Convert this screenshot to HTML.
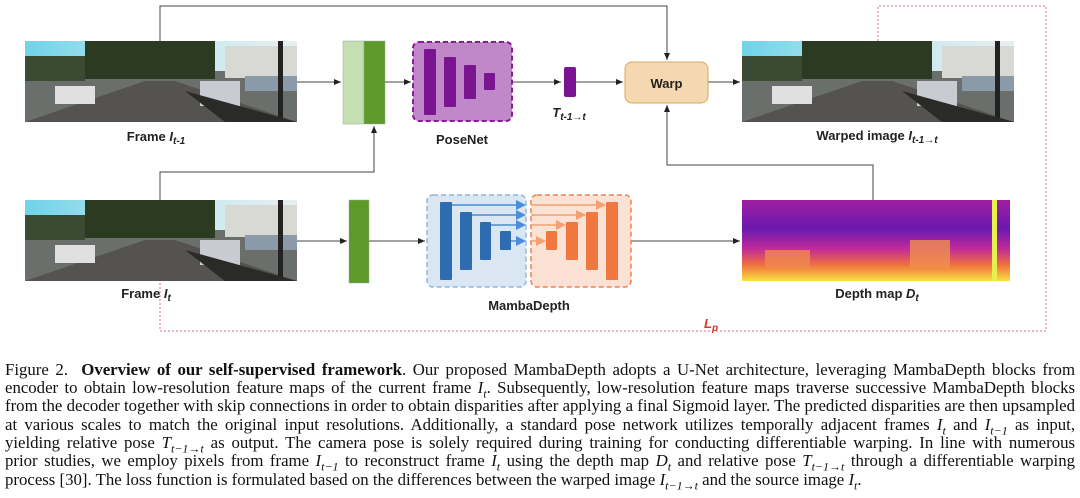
<!DOCTYPE html>
<html><head><meta charset="utf-8"><style>
body{margin:0;width:1080px;height:498px;background:#fff;position:relative;overflow:hidden}
svg{position:absolute;left:0;top:0}
.lb{font-family:"Liberation Sans",sans-serif;font-weight:bold;font-size:13px;fill:#222}
.cap{position:absolute;left:5px;width:1070px;font-family:"Liberation Serif",serif;font-size:16.8px;line-height:18px;color:#111;text-align:justify;text-align-last:justify;white-space:nowrap}
.cap.last{text-align-last:left}
i{font-style:italic}
sub{font-size:12px;line-height:0}
</style></head><body>
<svg width="1080" height="350" viewBox="0 0 1080 350">
<defs>
<linearGradient id="sky" x1="0" y1="0" x2="1" y2="0"><stop offset="0" stop-color="#6fd3e8"/><stop offset="0.5" stop-color="#bfe9f0"/><stop offset="1" stop-color="#e8eef0"/></linearGradient>
<linearGradient id="dep" x1="0" y1="0" x2="0" y2="1"><stop offset="0" stop-color="#a01fa0"/><stop offset="0.35" stop-color="#6a18b0"/><stop offset="0.6" stop-color="#c02a9a"/><stop offset="0.8" stop-color="#f07040"/><stop offset="1" stop-color="#f8e040"/></linearGradient>
<marker id="ar" markerWidth="8" markerHeight="8" refX="7" refY="4" orient="auto" markerUnits="userSpaceOnUse"><path d="M0,1 L7,4 L0,7z" fill="#222"/></marker>
<g id="photo">
<rect width="272" height="81" fill="#6b6f6c"/>
<rect width="272" height="30" fill="url(#sky)"/>
<rect x="60" y="0" width="130" height="38" fill="#2d3a22"/>
<rect x="0" y="15" width="60" height="25" fill="#3a4a33"/>
<rect x="200" y="5" width="72" height="32" fill="#d8d8d4"/>
<polygon points="0,81 120,40 150,40 272,81" fill="#55534f"/>
<rect x="30" y="45" width="40" height="18" fill="#e0e0e0"/>
<rect x="175" y="40" width="40" height="25" fill="#c8ccd2"/>
<rect x="220" y="35" width="52" height="15" fill="#8a9aa8"/>
<rect x="253" y="0" width="5" height="81" fill="#222"/>
<polygon points="160,50 272,81 200,81" fill="#2a2a28"/>
</g>
</defs>
<g stroke="#444" stroke-width="1" fill="none">
<polyline points="160,41 160,6 667,6 667,60" marker-end="url(#ar)"/>
<polyline points="160,200 160,172 374,172 374,126" marker-end="url(#ar)"/>
<polyline points="873,200 873,165 667,165 667,105" marker-end="url(#ar)"/>
<line x1="297" y1="82" x2="341" y2="82" marker-end="url(#ar)"/>
<line x1="385" y1="82" x2="411" y2="82" marker-end="url(#ar)"/>
<line x1="512" y1="82" x2="561" y2="82" marker-end="url(#ar)"/>
<line x1="576" y1="82" x2="623" y2="82" marker-end="url(#ar)"/>
<line x1="708" y1="82" x2="740" y2="82" marker-end="url(#ar)"/>
<line x1="297" y1="241" x2="347" y2="241" marker-end="url(#ar)"/>
<line x1="369" y1="241" x2="425" y2="241" marker-end="url(#ar)"/>
<line x1="631" y1="241" x2="740" y2="241" marker-end="url(#ar)"/>
</g>
<polyline points="160,283 160,331 1046,331 1046,6 878,6 878,41" fill="none" stroke="#d87090" stroke-width="1" stroke-dasharray="2,2"/>
<use href="#photo" x="25" y="41"/>
<use href="#photo" x="25" y="200"/>
<use href="#photo" x="742" y="41"/>
<rect x="742" y="200" width="268" height="81" fill="url(#dep)"/>
<rect x="765" y="250" width="45" height="18" fill="#f08850" opacity="0.8"/>
<rect x="910" y="240" width="40" height="28" fill="#f09050" opacity="0.8"/>
<rect x="992" y="200" width="5" height="81" fill="#e8f050"/>
<rect x="343" y="41" width="21" height="83" fill="#c4dfb2" stroke="#9a9" stroke-width="0.5"/>
<rect x="364" y="41" width="21" height="83" fill="#5e9a2a" stroke="#9a9" stroke-width="0.5"/>
<rect x="349" y="200" width="20" height="83" fill="#5e9a2a" stroke="#9a9" stroke-width="0.5"/>
<rect x="413" y="42" width="99" height="79" rx="6" fill="#c088c8" stroke="#8a1c9a" stroke-width="2" stroke-dasharray="5,3"/>
<g fill="#7a1490"><rect x="424" y="49" width="12" height="66" rx="1"/><rect x="444" y="57" width="12" height="50" rx="1"/><rect x="464" y="65" width="12" height="34" rx="1"/><rect x="484" y="73" width="11" height="17" rx="1"/></g>
<rect x="564" y="67" width="12" height="30" rx="2" fill="#7a1490"/>
<rect x="625" y="62" width="83" height="41" rx="7" fill="#f6d8b0" stroke="#d8a860" stroke-width="1"/>
<text x="666.5" y="88" text-anchor="middle" class="lb" font-size="13">Warp</text>
<rect x="427" y="195" width="99" height="92" rx="6" fill="#dae7f3" stroke="#8fb8e0" stroke-width="1.5" stroke-dasharray="5,3"/>
<rect x="531" y="195" width="100" height="92" rx="6" fill="#fbe2d4" stroke="#f08050" stroke-width="1.5" stroke-dasharray="5,3"/>
<g fill="#2d6cb0"><rect x="440" y="202" width="12" height="78" rx="1"/><rect x="460" y="212" width="12" height="58" rx="1"/><rect x="480" y="222" width="11" height="38" rx="1"/><rect x="500" y="231" width="11" height="19" rx="1"/></g>
<g fill="#f07840"><rect x="546" y="231" width="11" height="19" rx="1"/><rect x="566" y="222" width="12" height="38" rx="1"/><rect x="586" y="212" width="12" height="58" rx="1"/><rect x="606" y="202" width="12" height="78" rx="1"/></g>
<g stroke="#4a8ed8" stroke-width="1.5" fill="#4a8ed8">
<line x1="452" y1="205" x2="518" y2="205"/><polygon points="516,200 526,205 516,210" stroke="none"/>
<line x1="472" y1="215" x2="518" y2="215"/><polygon points="516,210 526,215 516,220" stroke="none"/>
<line x1="491" y1="225" x2="518" y2="225"/><polygon points="516,220 526,225 516,230" stroke="none"/>
<line x1="511" y1="241" x2="518" y2="241"/><polygon points="516,236 526,241 516,246" stroke="none"/>
</g>
<g stroke="#f4a070" stroke-width="1.5" fill="#f4a070">
<line x1="531" y1="205" x2="598" y2="205"/><polygon points="596,200 606,205 596,210" stroke="none"/>
<line x1="531" y1="215" x2="578" y2="215"/><polygon points="576,210 586,215 576,220" stroke="none"/>
<line x1="531" y1="225" x2="558" y2="225"/><polygon points="556,220 566,225 556,230" stroke="none"/>
<line x1="531" y1="241" x2="538" y2="241"/><polygon points="536,236 546,241 536,246" stroke="none"/>
</g>
<text x="156" y="141" text-anchor="middle" class="lb">Frame <tspan font-style="italic">I</tspan><tspan font-style="italic" font-size="10" dy="3">t-1</tspan></text>
<text x="462" y="144" text-anchor="middle" class="lb">PoseNet</text>
<text x="569" y="117" text-anchor="middle" class="lb" font-style="italic">T<tspan font-size="10" dy="3">t-1→t</tspan></text>
<text x="877" y="140" text-anchor="middle" class="lb">Warped image <tspan font-style="italic">I</tspan><tspan font-style="italic" font-size="10" dy="3">t-1→t</tspan></text>
<text x="146" y="298" text-anchor="middle" class="lb">Frame <tspan font-style="italic">I</tspan><tspan font-style="italic" font-size="10" dy="3">t</tspan></text>
<text x="529" y="310" text-anchor="middle" class="lb">MambaDepth</text>
<text x="877" y="298" text-anchor="middle" class="lb">Depth map <tspan font-style="italic">D</tspan><tspan font-style="italic" font-size="10" dy="3">t</tspan></text>
<text x="704" y="328" class="lb" style="fill:#e83030" font-style="italic">L<tspan font-size="10" dy="3">p</tspan></text>
</svg>
<div class="cap" style="top:361px">Figure 2.&nbsp; <b>Overview of our self-supervised framework</b>. Our proposed MambaDepth adopts a U-Net architecture, leveraging MambaDepth blocks from</div>
<div class="cap" style="top:379px">encoder to obtain low-resolution feature maps of the current frame <i>I<sub>t</sub></i>. Subsequently, low-resolution feature maps traverse successive MambaDepth blocks</div>
<div class="cap" style="top:397px">from the decoder together with skip connections in order to obtain disparities after applying a final Sigmoid layer. The predicted disparities are then upsampled</div>
<div class="cap" style="top:416px">at various scales to match the original input resolutions. Additionally, a standard pose network utilizes temporally adjacent frames <i>I<sub>t</sub></i> and <i>I<sub>t−1</sub></i> as input,</div>
<div class="cap" style="top:434px">yielding relative pose <i>T<sub>t−1→t</sub></i> as output. The camera pose is solely required during training for conducting differentiable warping. In line with numerous</div>
<div class="cap" style="top:452px">prior studies, we employ pixels from frame <i>I<sub>t−1</sub></i> to reconstruct frame <i>I<sub>t</sub></i> using the depth map <i>D<sub>t</sub></i> and relative pose <i>T<sub>t−1→t</sub></i> through a differentiable warping</div>
<div class="cap last" style="top:471px">process [30]. The loss function is formulated based on the differences between the warped image <i>I<sub>t−1→t</sub></i> and the source image <i>I<sub>t</sub></i>.</div>
</body></html>
